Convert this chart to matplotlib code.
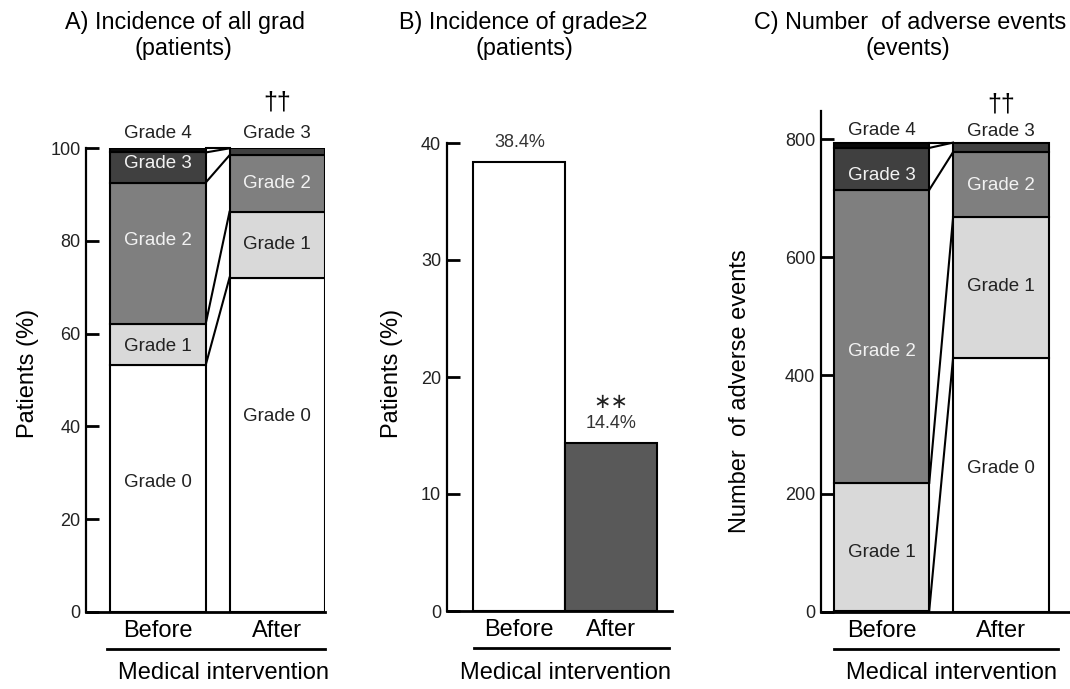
import matplotlib
matplotlib.use("Agg")
import matplotlib.pyplot as plt
from matplotlib import font_manager as fm
from matplotlib.lines import Line2D

# ---------------- data ----------------
categories = ["Before", "After"]
grades = ["Grade 0", "Grade 1", "Grade 2", "Grade 3", "Grade 4"]

# A) incidence of all grades (% patients)
a_before = [53.2, 8.9, 30.5, 6.5, 0.9]
a_after = [72.1, 14.2, 12.2, 1.5, 0.0]

# B) incidence of grade >= 2 (% patients)
b_values = [38.4, 14.4]
b_labels = ["38.4%", "14.4%"]

# C) number of adverse events
c_before = [2, 216, 496, 71, 9]
c_after = [430, 238, 110, 16, 0]

# ---------------- style ----------------
names = {f.name for f in fm.fontManager.ttflist}
base_font = "Liberation Sans" if "Liberation Sans" in names else "DejaVu Sans"
title_font = "Liberation Sans Narrow" if "Liberation Sans Narrow" in names else base_font
title_size = 19 if title_font == "Liberation Sans Narrow" else 16.8

plt.rcParams["font.family"] = [base_font, "DejaVu Sans"]

grade_colors = ["#ffffff", "#d9d9d9", "#7f7f7f", "#404040", "#0a0a0a"]
grade_text = ["#222222", "#222222", "#f2f2f2", "#f2f2f2", "#f2f2f2"]

W, H = 1070, 689
fig = plt.figure(figsize=(W / 100, H / 100), dpi=100)


def fx(px):
    return px / W


def fy(py):
    return 1 - py / H


def style_axes(ax, yticks):
    for s in ["top", "right"]:
        ax.spines[s].set_visible(False)
    ax.spines["left"].set_linewidth(1.6)
    ax.spines["bottom"].set_linewidth(2.0)
    ax.set_yticks(yticks)
    ax.tick_params(axis="y", direction="in", length=9, width=2.0,
                   labelsize=13, labelcolor="#222222", pad=4)
    ax.tick_params(axis="x", length=0, labelsize=17, pad=6)
    ax.set_xticks([0, 1])
    ax.set_xticklabels(categories)


def stacked(ax, before, after, width, label_y, top_labels):
    for i, vals in enumerate([before, after]):
        bottom = 0
        for k, v in enumerate(vals):
            if v > 0:
                ax.bar(i, v, width, bottom=bottom, color=grade_colors[k],
                       edgecolor="black", linewidth=1.5, zorder=2)
            bottom += v
    # connecting lines
    cb, ca = 0, 0
    for k in range(len(before)):
        cb += before[k]
        ca += after[k]
        ax.plot([width / 2, 1 - width / 2], [cb, ca], color="black",
                lw=1.5, zorder=3, clip_on=False)
    # labels inside segments
    for (i, k, y) in label_y:
        ax.text(i, y, grades[k], ha="center", va="center", fontsize=13.5,
                color=grade_text[k], zorder=4)
    for (i, k, y) in top_labels:
        ax.text(i, y, grades[k], ha="center", va="center", fontsize=13.5,
                color="#222222", clip_on=False)


def set_ylabel(ax, text, x_px, y_frac, ax_left, ax_width):
    ax.set_ylabel(text, fontsize=17, va="center")
    ax.yaxis.set_label_coords(-(ax_left - x_px) / ax_width, y_frac)


# ---------- Panel A ----------
axA = fig.add_axes([fx(86), fy(611.7), fx(325 - 86), (611.7 - 148.3) / H])
wA = 0.80
stacked(axA, a_before, a_after, wA,
        label_y=[(0, 0, 27.8), (0, 1, 57.3), (0, 2, 80.0), (0, 3, 96.8),
                 (1, 0, 42.2), (1, 1, 79.3), (1, 2, 92.3)],
        top_labels=[(0, 4, 103.3), (1, 3, 103.3)])
axA.set_xlim(-0.603, 1.40)
axA.set_ylim(0, 100)
style_axes(axA, [0, 20, 40, 60, 80, 100])
set_ylabel(axA, "Patients (%)", 28, (611.7 - 373) / (611.7 - 148.3), 86, 325 - 86)
axA.text(1, 109.8, "††", ha="center", va="center", fontsize=18, clip_on=False)

# ---------- Panel B ----------
axB = fig.add_axes([fx(446.7), fy(611), fx(672 - 446.7), (611 - 143) / H])
b_colors = ["#ffffff", "#595959"]
axB.bar([0, 1], b_values, 1.0, color=b_colors, edgecolor="black",
        linewidth=1.5, zorder=2)
for i, (v, lab) in enumerate(zip(b_values, b_labels)):
    axB.text(i, v + 0.9, lab, ha="center", va="bottom", fontsize=13,
             color="#333333")
axB.text(1, 17.9, "∗∗", ha="center", va="center", fontsize=15,
         color="#222222", family="DejaVu Sans")
axB.set_xlim(-0.79, 1.66)
axB.set_ylim(0, 40)
style_axes(axB, [0, 10, 20, 30, 40])
set_ylabel(axB, "Patients (%)", 392, (611 - 373) / (611 - 143), 446.7, 672 - 446.7)

# ---------- Panel C ----------
axC = fig.add_axes([fx(820.7), fy(611.7), fx(1070 - 820.7), (611.7 - 110.7) / H])
wC = 0.80
stacked(axC, c_before, c_after, wC,
        label_y=[(0, 1, 101), (0, 2, 441), (0, 3, 738),
                 (1, 0, 243), (1, 1, 550), (1, 2, 722)],
        top_labels=[(0, 4, 815), (1, 3, 813)])
axC.set_xlim(-0.51, 1.58)
axC.set_ylim(0, 848)
style_axes(axC, [0, 200, 400, 600, 800])
set_ylabel(axC, "Number  of adverse events", 740,
           (611.7 - 391) / (611.7 - 110.7), 820.7, 1070 - 820.7)
axC.text(1, 858, "††", ha="center", va="center", fontsize=18, clip_on=False)

# ---------- group lines and labels ----------
for (x0, x1, yl, xc) in [(107, 325, 649, 224), (474, 669, 648, 565),
                         (834, 1058, 649, 951)]:
    fig.add_artist(Line2D([fx(x0), fx(x1)], [fy(yl), fy(yl)],
                          color="black", lw=2.0))
    fig.text(fx(xc), fy(673), "Medical intervention", ha="center",
             va="center", fontsize=17)

# ---------- titles ----------
titles = [
    (185, "A) Incidence of all grad", 183, "(patients)"),
    (523, "B) Incidence of grade≥2", 524, "(patients)"),
    (910, "C) Number  of adverse events", 908, "(events)"),
]
for x1, t1, x2, t2 in titles:
    fig.text(fx(x1), fy(22), t1, ha="center", va="center",
             fontsize=title_size, family=[title_font, "DejaVu Sans"])
    fig.text(fx(x2), fy(48), t2, ha="center", va="center",
             fontsize=title_size, family=[title_font, "DejaVu Sans"])

fig.savefig("out.png", dpi=100)
